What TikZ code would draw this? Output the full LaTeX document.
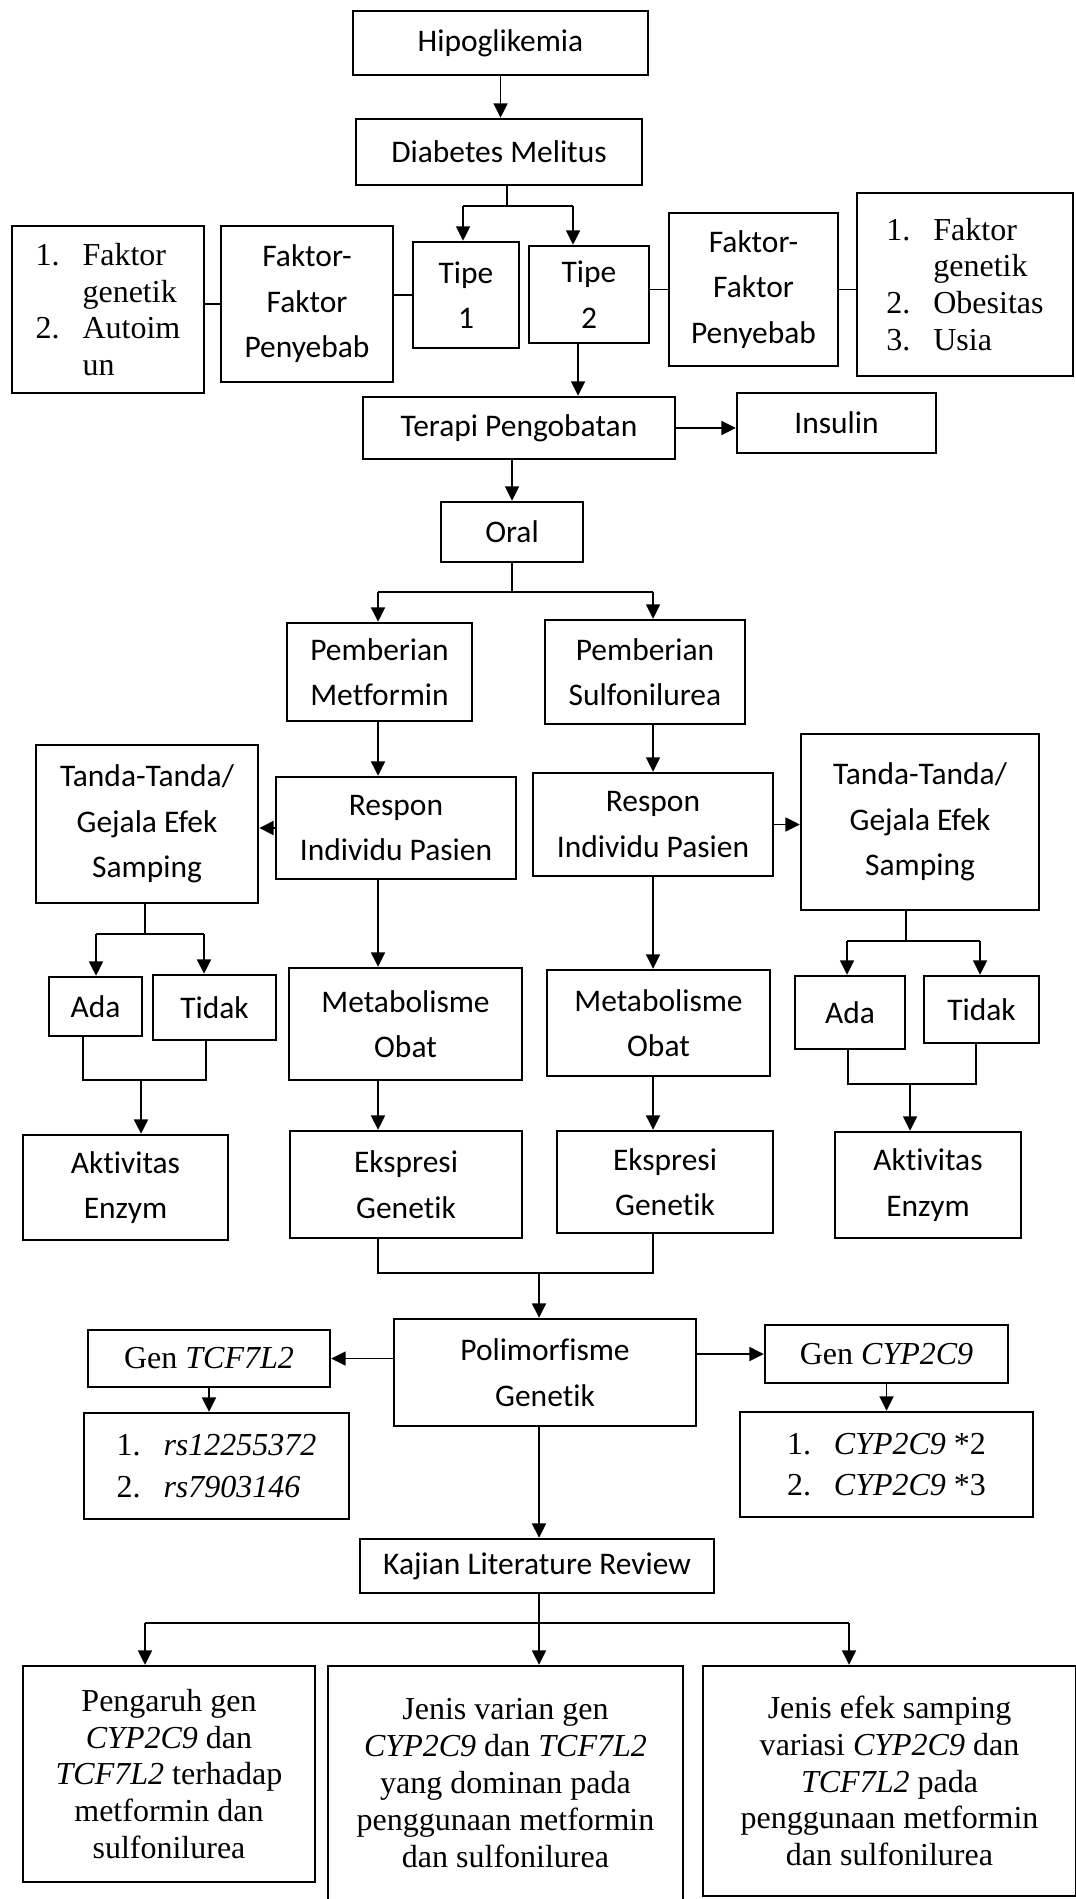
\documentclass[tikz,border=0pt]{standalone}
\usepackage{fontspec}
\setmainfont{Liberation Serif}
\newfontfamily\calibri[Ligatures=NoCommon]{Carlito}
\usetikzlibrary{arrows.meta}
\newcommand\listno[1]{\makebox[17.6pt][l]{#1}}

\begin{document}
\begin{tikzpicture}[x=0.375pt, y=-0.375pt,
  box/.style={draw, line width=0.9pt, inner sep=0pt, align=center},
  sz/.style 2 args={minimum width=#1*0.375pt, minimum height=#2*0.375pt},
  sans/.style={font=\calibri\fontsize{11.8}{17.1}\selectfont},
  serif/.style={font=\fontsize{12}{13.8}\selectfont},
  link/.style={line width=0.7pt},
  >={Triangle[length=5.4pt,width=5.2pt]}]

\useasboundingbox (0,0) rectangle (1075,1899);

% -------- Top part -----------
\node (hipo)    [box,sans,sz={295}{64}]  at (500.5,43)  {Hipoglikemia};
\node (dm)      [box,sans,sz={286}{66}]  at (499,152)   {Diabetes Melitus};
\node (tipe1)   [box,sans,sz={106}{106}] at (466,295)   {Tipe\\1};
\node (tipe2)   [box,sans,sz={120}{97}]  at (589,294.5) {Tipe\\2};
\node (faktorL) [box,sans,sz={172}{156}] at (307,304)   {Faktor-\\Faktor\\Penyebab};
\node (listL)   [box,serif,sz={192}{167},align=left] at (108,309.5)
  {\listno{1.}Faktor\\\listno{}genetik\\\listno{2.}Autoim\\\listno{}un};
\node (faktorR) [box,sans,sz={169}{153}] at (753.5,289.5) {Faktor-\\Faktor\\Penyebab};
\node (listR)   [box,serif,sz={216}{183},align=left] at (965,284.5)
  {\listno{1.}Faktor\\\listno{}genetik\\\listno{2.}Obesitas\\\listno{3.}Usia};
\node (terapi)  [box,sans,sz={312}{62}]  at (519,428)   {Terapi Pengobatan};
\node (insulin) [box,sans,sz={199}{60}]  at (836.5,423) {Insulin};
\node (oral)    [box,sans,sz={142}{60}]  at (512,532)   {Oral};

% -------- Middle part -----------
\node (pmet)   [box,sans,sz={185}{98}]  at (379.5,672) {Pemberian\\Metformin};
\node (psulf)  [box,sans,sz={200}{104}] at (645,672)   {Pemberian\\Sulfonilurea};
\node (resL)   [box,sans,sz={240}{102}] at (396,828)   {Respon\\Individu Pasien};
\node (resR)   [box,sans,sz={240}{103}] at (653,824.5) {Respon\\Individu Pasien};
\node (tandaL) [box,sans,sz={222}{158}] at (147,824)   {Tanda-Tanda/\\Gejala Efek\\Samping};
\node (tandaR) [box,sans,sz={238}{176}] at (920,822)   {Tanda-Tanda/\\Gejala Efek\\Samping};
\node (adaL)   [box,sans,sz={93}{59}]   at (95.5,1006.5)  {Ada};
\node (tidakL) [box,sans,sz={123}{65}]  at (214.5,1007.5) {Tidak};
\node (aktL)   [box,sans,sz={205}{105}] at (125.5,1187.5) {Aktivitas\\Enzym};
\node (metL)   [box,sans,sz={233}{112}] at (405.5,1024)   {Metabolisme\\Obat};
\node (eksL)   [box,sans,sz={232}{107}] at (406,1184.5)   {Ekspresi\\Genetik};
\node (metR)   [box,sans,sz={223}{106}] at (658.5,1023)   {Metabolisme\\Obat};
\node (eksR)   [box,sans,sz={216}{102}] at (665,1182)     {Ekspresi\\Genetik};
\node (adaR)   [box,sans,sz={110}{73}]  at (850,1012.5)   {Ada};
\node (tidakR) [box,sans,sz={115}{67}]  at (981.5,1009.5) {Tidak};
\node (aktR)   [box,sans,sz={186}{106}] at (928,1185)     {Aktivitas\\Enzym};

% -------- Bottom part -----------
\node (poli)   [box,sans,sz={302}{107}]  at (545,1372.5)  {Polimorfisme\\Genetik};
\node (genT)   [box,serif,sz={242}{57}]  at (209,1358.5)  {Gen \textit{TCF7L2}};
\node (genC)   [box,serif,sz={243}{58}]  at (886.5,1354)  {Gen \textit{CYP2C9}};
\node (listT)  [box,serif,sz={265}{106},align=left,font=\fontsize{12}{15.6}\selectfont] at (216.5,1466)
  {\listno{1.}\textit{rs12255372}\\\listno{2.}\textit{rs7903146}};
\node (listC)  [box,serif,sz={293}{105},align=left,font=\fontsize{12}{15.6}\selectfont] at (886.5,1464.5)
  {\listno{1.}\textit{CYP2C9} *2\\\listno{2.}\textit{CYP2C9} *3};
\node (kajian) [box,sans,sz={354}{54}]   at (537,1566)    {Kajian Literature Review};
\node (out1)   [box,serif,sz={292}{216}] at (169,1774)
  {Pengaruh gen\\\textit{CYP2C9} dan\\\textit{TCF7L2} terhadap\\metformin dan\\sulfonilurea};
\node (out2)   [box,serif,sz={355}{234}] at (505.5,1783)
  {Jenis varian gen\\\textit{CYP2C9} dan \textit{TCF7L2}\\yang dominan pada\\penggunaan metformin\\dan sulfonilurea};
\node (out3)   [box,serif,sz={373}{230}] at (889.5,1781)
  {Jenis efek samping\\variasi \textit{CYP2C9} dan\\\textit{TCF7L2} pada\\penggunaan metformin\\dan sulfonilurea};

% -------- Junctions -----------
\coordinate (jdm) at (507,206);
\coordinate (jt1) at (463,206);
\coordinate (jt2) at (573,206);
\coordinate (c2)  at (578,0);
\coordinate (jo)  at (512,592);
\coordinate (colL) at (378,592);
\coordinate (colR) at (653,592);
\coordinate (jp)  at (539,1273);
\coordinate (jtl) at (145,934);
\coordinate (jal) at (96,934);
\coordinate (jdl) at (204,934);
\coordinate (bal) at (83,1080);
\coordinate (bdl) at (206,1080);
\coordinate (jkl) at (141,1080);
\coordinate (jtr) at (906,941);
\coordinate (jar) at (847,941);
\coordinate (jdr) at (980,941);
\coordinate (bar) at (848,1084);
\coordinate (bdr) at (976,1084);
\coordinate (jkr) at (910,1084);
\coordinate (jk1) at (145,1623);
\coordinate (jk2) at (539,1623);
\coordinate (jk3) at (849,1623);

% -------- Connectors -----------
\draw [link,->] (hipo.south) -- (hipo.south |- dm.north);
\draw [link] (dm.south -| jdm) -- (jdm);
\draw [link] (jt1) -- (jt2);
\draw [link,->] (jt1) -- (jt1 |- tipe1.north);
\draw [link,->] (jt2) -- (jt2 |- tipe2.north);
\draw [link] (faktorL.west) -- (faktorL.west -| listL.east);
\draw [link] (tipe1.west) -- (tipe1.west -| faktorL.east);
\draw [link] (faktorR.west) -- (faktorR.west -| tipe2.east);
\draw [link] (faktorR.east) -- (faktorR.east -| listR.west);
\draw [link,->] (tipe2.south -| c2) -- (terapi.north -| c2);
\draw [link,->] (terapi.east) -- (terapi.east -| insulin.west);
\draw [link,->] (terapi.south -| oral) -- (oral.north);

\draw [link] (oral.south) -- (oral.south |- jo);
\draw [link] (colL) -- (colR);
\draw [link,->] (colL) -- (colL |- pmet.north);
\draw [link,->] (colR) -- (colR |- psulf.north);
\draw [link,->] (pmet.south -| colL) -- (resL.north -| colL);
\draw [link,->] (psulf.south -| colR) -- (resR.north -| colR);
\draw [link,->] (resL.west) -- (resL.west -| tandaL.east);
\draw [link,->] (resR.east) -- (resR.east -| tandaR.west);
\draw [link,->] (resL.south -| colL) -- (metL.north -| colL);
\draw [link,->] (resR.south -| colR) -- (metR.north -| colR);
\draw [link,->] (metL.south -| colL) -- (eksL.north -| colL);
\draw [link,->] (metR.south -| colR) -- (eksR.north -| colR);
\draw [link] (eksL.south -| colL) |- (jp) -| (eksR.south -| colR);
\draw [link,->] (jp) -- (jp |- poli.north);

\draw [link] (tandaL.south -| jtl) -- (jtl);
\draw [link] (jal) -- (jdl);
\draw [link,->] (jal) -- (jal |- adaL.north);
\draw [link,->] (jdl) -- (jdl |- tidakL.north);
\draw [link] (adaL.south -| bal) -- (bal) -- (bdl) -- (tidakL.south -| bdl);
\draw [link,->] (jkl) -- (jkl |- aktL.north);

\draw [link] (tandaR.south -| jtr) -- (jtr);
\draw [link] (jar) -- (jdr);
\draw [link,->] (jar) -- (jar |- adaR.north);
\draw [link,->] (jdr) -- (jdr |- tidakR.north);
\draw [link] (adaR.south -| bar) -- (bar) -- (bdr) -- (tidakR.south -| bdr);
\draw [link,->] (jkr) -- (jkr |- aktR.north);

\draw [link,->] (poli.west |- genT) -- (genT.east);
\draw [link,->] (poli.east |- genC) -- (genC.west);
\draw [link,->] (genT.south) -- (genT.south |- listT.north);
\draw [link,->] (genC.south) -- (genC.south |- listC.north);
\draw [link,->] (poli.south -| jp) -- (kajian.north -| jp);
\draw [link] (kajian.south -| jk2) -- (jk2);
\draw [link] (jk1) -- (jk3);
\draw [link,->] (jk1) -- (jk1 |- out1.north);
\draw [link,->] (jk2) -- (jk2 |- out2.north);
\draw [link,->] (jk3) -- (jk3 |- out3.north);

\end{tikzpicture}
\end{document}
